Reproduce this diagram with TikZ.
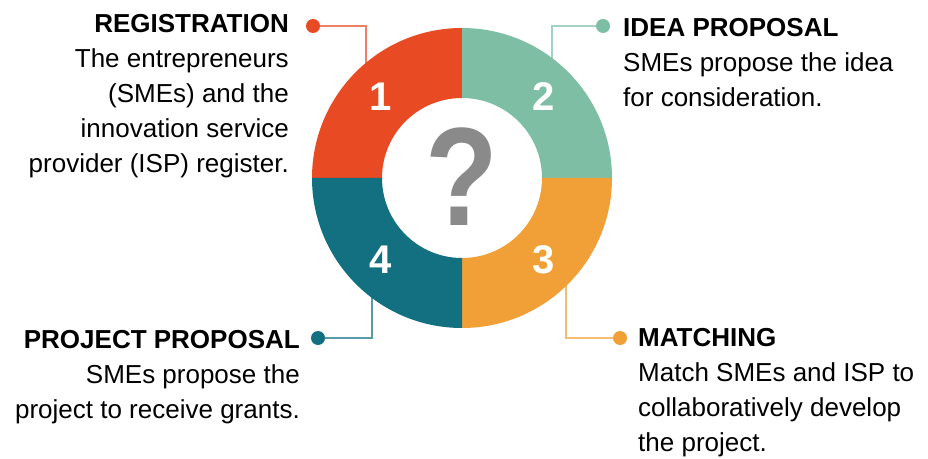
\documentclass[tikz,border=0pt]{standalone}
\usepackage{fontspec}
\setmainfont{Liberation Sans}
\usetikzlibrary{positioning}
\definecolor{stepred}{RGB}{232,74,36}
\definecolor{stepgreen}{RGB}{125,190,165}
\definecolor{steporange}{RGB}{240,160,55}
\definecolor{stepteal}{RGB}{18,112,128}
\definecolor{qgrey}{RGB}{138,138,138}

\begin{document}
\begin{tikzpicture}[x=1pt, y=1pt,
    blurb/.style={font=\fontsize{26}{35}\selectfont, inner sep=0pt},
    dot/.style={circle, fill=#1, minimum size=14pt, inner sep=0pt},
    link/.style={line width=2pt, #1!70},
    num/.style={font=\fontsize{40}{40}\selectfont\bfseries, text=white}
]
    \useasboundingbox (0,0) rectangle (928,458);
    \coordinate (c) at (462,280);

    % text blocks (base = last line)
    \node[blurb, align=right, anchor=base east] (reg) at (289,285)
        {\textbf{REGISTRATION}\\The entrepreneurs\\(SMEs) and the\\innovation service\\provider (ISP) register.};
    \node[blurb, align=left, anchor=base west] (idea) at (623,351)
        {\textbf{IDEA PROPOSAL}\\SMEs propose the idea\\for consideration.};
    \node[blurb, align=left, anchor=base west] (match) at (638,7)
        {\textbf{MATCHING}\\Match SMEs and ISP to\\collaboratively develop\\the project.};
    \node[blurb, align=right, anchor=base east] (proj) at (300,40)
        {\textbf{PROJECT PROPOSAL}\\SMEs propose the\\project to receive grants.};

    % dots and connectors
    \node[dot=stepred] (d1) at (313,432) {};
    \node[dot=stepgreen] (d2) at (603,432) {};
    \node[dot=steporange] (d3) at (620,120) {};
    \node[dot=stepteal] (d4) at (318,120) {};
    \coordinate (e1) at (366,380);
    \coordinate (e2) at (552,380);
    \coordinate (e3) at (566,180);
    \coordinate (e4) at (372,180);
    \draw[link=stepred] (d1) -| (e1);
    \draw[link=stepgreen] (d2) -| (e2);
    \draw[link=steporange] (d3) -| (e3);
    \draw[link=stepteal] (d4) -| (e4);

    % ring
    \foreach \a/\col/\n in {90/stepred/1, 0/stepgreen/2, 270/steporange/3, 180/stepteal/4} {
        \fill[\col, shift={(c)}] (\a:150) arc[start angle=\a, delta angle=90, radius=150]
            -- (\a+90:80) arc[start angle=\a+90, delta angle=-90, radius=80] -- cycle;
        \node[num] (n\n) at ([shift={(\a+45:115)}]c) {\n};
    }
    \node[font=\fontsize{140}{140}\selectfont\bfseries, text=qgrey, xscale=0.85, inner sep=0pt] (q) at (462,281) {?};
\end{tikzpicture}
\end{document}
